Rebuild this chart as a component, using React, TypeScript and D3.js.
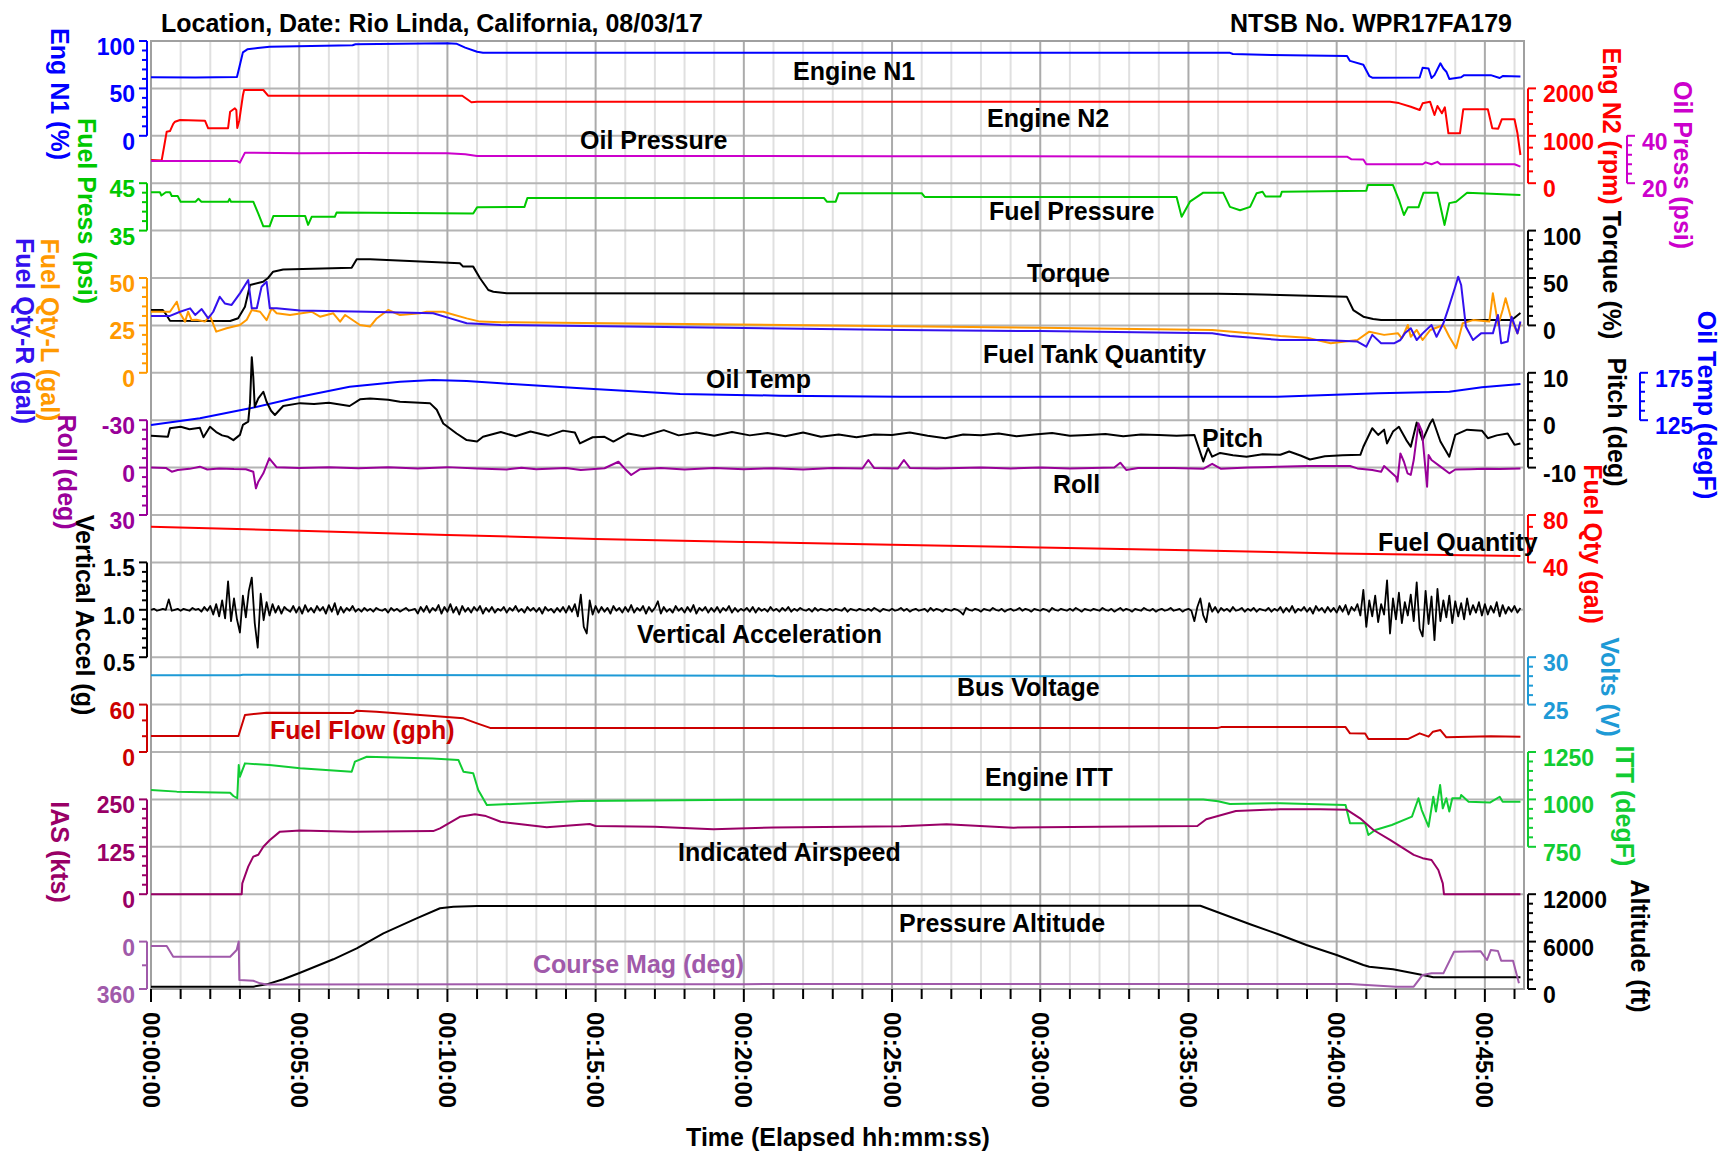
import React, { useEffect, useRef } from 'react';
import * as d3 from 'd3';

type Pt = [number, number];

// ---- data: [elapsed minutes, value in the axis units] ----
const timeTicks = [0, 5, 10, 15, 20, 25, 30, 35, 40, 45];
const timeLabels = ['00:00:00', '00:05:00', '00:10:00', '00:15:00', '00:20:00', '00:25:00', '00:30:00', '00:35:00', '00:40:00', '00:45:00'];

const engN1: Pt[] = [
  [0, 61.7], [1.5, 61.5], [2.9, 62], [3.0, 75], [3.1, 88], [3.25, 91.2], [3.6, 92.5], [4.0, 94], [6.8, 95.5], [6.9, 96.5],
  [10.0, 97.5], [10.3, 97.2], [10.6, 93], [11.0, 88.7], [11.2, 87.7], [36.4, 87.5], [36.5, 86.3], [37.8, 85.2], [40.35, 84.2],
  [40.45, 79], [40.9, 75], [41.1, 63], [41.2, 61.3], [42.8, 61.5], [42.9, 71.8], [43.1, 71], [43.2, 61], [43.3, 64], [43.5, 76.5],
  [43.6, 71], [43.7, 67.6], [43.8, 60], [44.2, 61.7], [44.3, 64], [45.2, 64], [45.5, 61], [45.6, 63], [46.2, 62.5],
];

const engN2: Pt[] = [
  [0, 490], [0.36, 480], [0.45, 800], [0.53, 1087], [0.64, 1100], [0.75, 1250], [0.81, 1297], [0.98, 1333], [1.82, 1320],
  [1.93, 1158], [2.6, 1160], [2.67, 1508], [2.83, 1580], [2.88, 1540], [2.91, 1165], [2.98, 1330], [3.1, 1850], [3.14, 1966],
  [3.79, 1966], [3.95, 1846], [10.5, 1846], [10.81, 1707], [11.0, 1720], [41.8, 1720], [42.1, 1690], [42.5, 1614], [42.8, 1544],
  [42.9, 1685], [43.15, 1720], [43.3, 1439], [43.4, 1629], [43.55, 1475], [43.65, 1601], [43.77, 1053], [44.16, 1053],
  [44.27, 1559], [45.1, 1559], [45.25, 1158], [45.45, 1150], [45.57, 1348], [46.0, 1348], [46.1, 1053], [46.2, 595],
];

const oilPress: Pt[] = [
  [0, 29.4], [2.9, 29.4], [3.0, 28.7], [3.17, 32.9], [5, 32.6], [7, 32.7], [10, 32.6], [10.6, 32.2], [11, 31.5], [25, 31.4],
  [37, 31.2], [40.35, 31.2], [40.5, 30.1], [40.9, 30], [41.0, 28], [42.9, 28], [43.0, 28.8], [43.2, 28], [43.4, 29], [43.5, 28],
  [46.0, 28], [46.2, 27],
];

const fuelPress: Pt[] = [
  [0, 43.1], [0.3, 43.1], [0.35, 42.4], [0.5, 43.1], [0.64, 43.1], [0.7, 42.3], [0.9, 42.3], [1.0, 41.1], [1.5, 41.1], [1.6, 41.7],
  [1.7, 41.1], [2.6, 41.1], [2.65, 41.7], [2.7, 41.1], [3.45, 41.1], [3.62, 38.6], [3.79, 35.9], [4.0, 35.9], [4.13, 38.1],
  [5.2, 38.1], [5.3, 36.2], [5.42, 37.9], [6.2, 37.9], [6.26, 38.8], [10.87, 38.6], [11.0, 39.9], [12.6, 40.0], [12.7, 41.9],
  [22.7, 41.9], [22.8, 41.1], [23.1, 41.1], [23.2, 42.9], [26.0, 42.9], [26.1, 42.1], [34.6, 42.1], [34.77, 37.9], [35.05, 41.1],
  [35.5, 43], [36.17, 43], [36.4, 40], [36.74, 39.3], [37.08, 40], [37.3, 42.9], [37.5, 43.2], [37.6, 42.2], [38.1, 42.2],
  [38.15, 43.2], [41.0, 43.4], [41.05, 44.6], [41.9, 44.6], [42.1, 41.5], [42.27, 38.3], [42.4, 39.9], [42.76, 39.9],
  [42.93, 43], [43.4, 43], [43.64, 36.2], [43.8, 40.8], [44.03, 41.1], [44.4, 43], [46.2, 42.5],
];

const torque: Pt[] = [
  [0, 16.2], [0.4, 16.2], [0.5, 12], [0.64, 5], [2.67, 4.6], [2.94, 7.5], [3.17, 19.7], [3.34, 42.6], [3.78, 46], [3.95, 50],
  [4.12, 56.6], [4.46, 59], [6.77, 60.8], [6.94, 69.7], [7.39, 69.7], [10.42, 65.5], [10.53, 62], [10.87, 62], [11.1, 49.7],
  [11.38, 37.3], [11.55, 35.5], [12.0, 33.8], [36.0, 33.5], [37.1, 32.8], [40.34, 30.3], [40.56, 16.2], [40.9, 9.2],
  [41.23, 6.8], [41.5, 5.7], [45.9, 5.7], [46.0, 8], [46.2, 13],
];

const fuelQtyL: Pt[] = [
  [0, 32.2], [0.64, 32.2], [0.87, 37.5], [0.98, 31.4], [1.15, 27], [1.25, 32.2], [1.37, 27.8], [1.54, 28], [1.82, 27], [1.99, 30],
  [2.2, 21.7], [2.55, 23.5], [3.0, 25.2], [3.23, 28], [3.4, 33.1], [3.68, 32.2], [3.9, 27.8], [4.07, 34], [4.24, 31.4],
  [4.69, 30.5], [5.42, 32.2], [5.7, 29.6], [6.15, 31.4], [6.38, 27], [6.55, 30.5], [7.05, 25.2], [7.39, 24.4], [7.6, 28.5],
  [8.0, 33.1], [8.4, 30.5], [9.08, 31.4], [9.3, 32.2], [9.86, 32.2], [10.65, 28.7], [11.1, 27], [11.8, 26.7], [18, 25.8],
  [25.3, 24.5], [30, 23.8], [35.8, 22.6], [38.1, 19.4], [39.0, 18.5], [39.8, 15.6], [40.7, 17.3], [41.1, 21.7], [41.6, 20],
  [42.07, 20.8], [42.2, 18.2], [42.4, 25.2], [42.5, 19], [42.7, 22.6], [42.9, 17.3], [43.16, 22.6], [43.6, 25.2], [43.8, 19],
  [44.03, 13], [44.25, 26.1], [44.6, 27.8], [45.15, 27], [45.27, 41.9], [45.45, 25.2], [45.6, 33.1], [45.7, 39.3],
  [45.9, 27.8], [46.1, 20.8], [46.2, 26.1],
];

const fuelQtyR: Pt[] = [
  [0, 30], [0.64, 30], [0.98, 32.2], [1.32, 34], [1.49, 30.5], [1.71, 33.6], [1.93, 28.7], [2.1, 32.2], [2.32, 40.1], [2.49, 36.6],
  [2.72, 35.8], [3.0, 41.9], [3.28, 48.9], [3.4, 34], [3.57, 34], [3.73, 45.4], [3.9, 48], [4.01, 34], [4.24, 34], [5.03, 32.8],
  [7.27, 32.2], [9.52, 31.4], [10.1, 28.7], [10.65, 26.1], [11.8, 25.2], [18, 24], [25.3, 22.6], [30, 22], [35.8, 20.8],
  [36.4, 19.4], [38.1, 17.3], [39.5, 17.3], [40.7, 16.5], [41.0, 13.8], [41.2, 20], [41.5, 15.6], [41.95, 15.6], [42.15, 17.3],
  [42.3, 20.8], [42.5, 23.5], [42.7, 17.3], [42.9, 20.8], [43.2, 25.2], [43.37, 19], [43.6, 26.1], [43.77, 34], [44.0, 45.4],
  [44.1, 50.7], [44.2, 46.3], [44.36, 24.3], [44.6, 17.3], [44.87, 20.8], [45.27, 20.8], [45.44, 30.5], [45.55, 15.6],
  [45.77, 16.5], [45.9, 29.6], [46.1, 20.8], [46.2, 27],
];

const oilTemp: Pt[] = [
  [0, 119.9], [1.65, 127], [3.34, 137.5], [5.03, 149.8], [6.7, 160.3], [8.4, 165.6], [9.52, 167.4], [10.65, 166.4],
  [11.8, 163.9], [14.5, 158.6], [17.85, 152.6], [21.2, 150.9], [25.3, 149.8], [38, 149.8], [41.4, 153.4], [43.8, 155.1],
  [44.9, 159.7], [46.2, 163.2],
];

const pitch: Pt[] = [
  [0, -3.3], [0.57, -3.5], [0.64, -1.7], [1.0, -1.4], [1.3, -1.9], [1.65, -1.6], [1.77, -3.6], [1.99, -1.4], [2.2, -2.5],
  [2.4, -3.2], [2.6, -3.5], [2.78, -4.2], [3.0, -3.1], [3.1, -1], [3.28, -0.3], [3.34, 3.6], [3.4, 13.3], [3.45, 9.2], [3.5, 2.8],
  [3.62, 4.6], [3.79, 6], [3.9, 3.9], [4.05, 2], [4.18, 1.1], [4.46, 3.0], [5.03, 3.6], [5.5, 3.4], [6.0, 3.7], [6.7, 3.0],
  [7.05, 4.4], [7.39, 4.6], [8.0, 4.3], [8.4, 3.9], [9.41, 3.6], [9.64, 2.2], [9.86, -0.7], [10.31, -2.8], [10.65, -4.2],
  [11.0, -4.5], [11.2, -3.5], [11.8, -2.5], [12.3, -3.4], [12.8, -2.4], [13.4, -3.3], [13.9, -2.2], [14.3, -2.6], [14.47, -4.9],
  [14.9, -3.6], [15.3, -3.5], [15.6, -4.5], [16.1, -2.8], [16.6, -3.4], [17.3, -2.1], [17.8, -3.2], [18.4, -2.6], [19.0, -3.3],
  [19.6, -2.5], [20.2, -3.2], [20.8, -2.7], [21.4, -3.4], [22.0, -2.6], [22.6, -3.5], [23.2, -3.0], [23.8, -3.6], [24.4, -3.0],
  [25, -3.1], [25.6, -2.6], [26.2, -3.3], [26.8, -3.8], [27.4, -3.0], [28, -3.2], [28.6, -2.8], [29.2, -3.4], [29.8, -3.0],
  [30.4, -2.7], [31, -3.3], [31.6, -3.1], [32.2, -2.9], [32.8, -3.4], [33.4, -3.0], [34, -3.1], [34.6, -3.3], [35.2, -3.1],
  [35.5, -8.7], [35.66, -5.9], [35.8, -7.7], [36.07, -6.9], [36.5, -7.4], [36.96, -7.7], [37.5, -7.2], [38.1, -7.3],
  [38.4, -6.6], [38.8, -7.5], [39.1, -8.3], [39.6, -7.6], [40.2, -7.4], [40.8, -7.3], [40.9, -5.6], [41.2, -1.7], [41.4, -3.1],
  [41.6, -2], [41.7, -4.9], [41.9, -2.4], [42.1, -1.4], [42.35, -4.2], [42.5, -5.6], [42.7, -0.5], [42.9, -4.2], [43.15, -0.7],
  [43.24, 0.2], [43.5, -4.5], [43.8, -7.7], [44.0, -3.1], [44.4, -2.0], [44.9, -2.2], [45.1, -3.8], [45.4, -3.2],
  [45.77, -2.8], [46.0, -5.2], [46.2, -4.9],
];

const roll: Pt[] = [
  [0, 0], [0.5, 0.2], [0.7, 2.6], [0.9, 1.5], [1.3, 0.8], [1.65, -0.6], [1.9, 1.2], [2.3, 0.5], [2.8, 0.9], [3.2, 1.0],
  [3.45, 2.6], [3.54, 13.1], [3.62, 8.9], [3.79, 3.6], [3.99, -5.9], [4.24, -0.2], [5, 0.3], [6, -0.3], [7, 0.4], [8, -0.2],
  [9, 0.5], [10, -0.3], [11, 0.6], [12, 1.2], [12.5, 0.1], [13, 1.0], [14, 0.3], [14.5, 1.5], [15.3, 0.4], [15.77, -3.7],
  [16.0, 1.0], [16.2, 4.7], [16.5, 1.0], [17.2, 0.3], [18, 1.2], [19, 0.2], [20, 1.0], [21, 0.4], [22, 1.2], [23, 0.3],
  [24, 0.6], [24.2, -4.8], [24.4, 0.3], [25.2, 0.5], [25.4, -4.8], [25.6, 0.2], [26.5, 0.5], [28, 0], [29, 0.5], [30, 0],
  [31, 0.5], [32.5, 0], [32.7, -3.1], [32.9, 1.5], [33.3, 0.2], [34.5, 0.2], [35.5, 0.8], [35.8, -2.4], [36.1, 0.8], [37, 0],
  [38, -0.5], [39, -1], [40.45, -1], [40.7, 0.5], [41.2, 1.5], [41.5, 2.6], [41.6, -1], [42.0, 5.8], [42.05, 8.9],
  [42.15, -9], [42.27, -3.7], [42.39, 3.6], [42.5, 4.6], [42.6, -4.8], [42.76, -28], [42.88, -22.7], [43.05, 12.1],
  [43.1, -7.9], [43.2, -4.8], [43.5, -0.6], [43.8, 3.6], [44.0, 1.2], [44.5, 1.0], [45, 0.8], [45.5, 0.9], [46.2, 0.5],
];

const fuelQty: Pt[] = [
  [0, 70.1], [5, 66.8], [10, 63.2], [15, 59.8], [20, 57.3], [25, 54.9], [30, 52.6], [35, 50.2], [40, 47.6], [46.2, 45.4],
];

// vertical acceleration, one sample every 6 s (0.1 min), one row per minute
const vaccelStep = 0.1;
const vaccel = [
  1.00, 1.01, 0.99, 1.00, 1.01, 1.00, 1.11, 0.99, 1.00, 1.01,
  0.99, 1.01, 1.00, 0.99, 1.02, 1.00, 1.01, 0.98, 1.03, 0.99,
  1.04, 0.95, 1.06, 0.93, 1.10, 0.91, 1.30, 0.88, 1.12, 0.90,
  0.76, 1.15, 0.92, 1.20, 1.34, 0.86, 0.60, 1.17, 0.89, 1.08,
  0.94, 1.06, 0.97, 1.04, 0.96, 1.03, 1.00, 0.98, 1.04, 0.97,
  1.03, 0.96, 1.05, 0.98, 1.02, 0.97, 1.04, 0.99, 1.03, 0.96,
  1.05, 0.98, 1.07, 0.95, 1.03, 0.97, 1.02, 0.99, 1.04, 0.98,
  1.01, 0.98, 1.02, 0.99, 1.01, 0.98, 1.02, 1.00, 0.99, 1.01,
  0.97, 1.02, 0.99, 1.01, 0.98, 1.00, 1.02, 0.99, 1.00, 1.01,
  0.96, 1.03, 0.98, 1.04, 0.97, 1.02, 0.99, 1.05, 0.96, 1.03,
  0.98, 1.06, 0.97, 1.03, 0.95, 1.04, 0.98, 1.02, 0.97, 1.03,
  0.99, 1.04, 0.96, 1.02, 0.98, 1.03, 0.97, 1.01, 0.99, 1.03,
  0.97, 1.02, 0.99, 1.04, 0.98, 1.01, 0.97, 1.03, 0.99, 1.02,
  0.98, 1.02, 0.96, 1.03, 0.99, 1.01, 0.97, 1.02, 0.98, 1.03,
  0.97, 1.04, 0.98, 1.06, 0.93, 1.16, 0.82, 0.75, 1.10, 0.95,
  1.04, 0.97, 1.03, 0.98, 1.02, 0.96, 1.04, 0.99, 1.02, 0.97,
  1.03, 0.98, 1.05, 0.97, 1.02, 0.99, 1.04, 0.96, 1.03, 0.98,
  1.02, 1.09, 0.96, 1.03, 0.98, 1.01, 0.97, 1.04, 0.99, 1.02,
  0.97, 1.03, 0.98, 1.05, 0.96, 1.02, 0.99, 1.03, 0.97, 1.02,
  0.98, 1.03, 0.97, 1.02, 0.99, 1.04, 0.97, 1.02, 0.98, 1.01,
  0.99, 1.02, 0.98, 1.03, 0.97, 1.02, 0.99, 1.01, 0.98, 1.03,
  0.99, 1.01, 0.98, 1.02, 0.99, 1.03, 0.98, 1.01, 0.99, 1.02,
  1.00, 0.99, 1.01, 0.98, 1.02, 0.99, 1.01, 1.00, 0.99, 1.01,
  0.99, 1.01, 1.00, 0.99, 1.02, 0.98, 1.01, 1.00, 0.99, 1.01,
  1.00, 0.99, 1.01, 0.99, 1.02, 1.00, 0.98, 1.01, 1.00, 0.99,
  1.01, 0.99, 1.00, 1.02, 0.99, 1.01, 0.98, 1.00, 1.01, 0.99,
  1.00, 1.01, 0.98, 1.02, 0.99, 1.01, 1.00, 0.98, 1.01, 1.00,
  0.99, 1.01, 1.00, 0.98, 0.95, 1.02, 1.00, 0.99, 1.01, 1.00,
  0.98, 1.01, 1.00, 0.99, 1.02, 1.00, 0.99, 1.01, 0.98, 1.00,
  1.01, 0.99, 1.00, 1.02, 0.99, 1.01, 1.00, 0.98, 1.01, 1.00,
  0.99, 1.01, 1.00, 0.98, 1.02, 1.00, 0.99, 1.01, 1.00, 0.99,
  1.01, 0.99, 1.02, 1.00, 0.98, 1.01, 1.00, 0.99, 1.01, 1.00,
  0.99, 1.02, 1.00, 0.99, 1.01, 0.98, 1.00, 1.02, 0.99, 1.01,
  1.00, 0.98, 1.01, 1.00, 0.99, 1.02, 1.00, 0.99, 1.01, 0.98,
  1.00, 1.01, 0.99, 1.00, 1.02, 0.99, 1.00, 1.01, 0.98, 1.00,
  1.01, 0.99, 0.88, 1.03, 1.12, 0.94, 0.87, 1.07, 0.98, 1.03,
  0.97, 1.02, 0.99, 1.01, 0.98, 1.03, 0.99, 1.00, 1.02, 0.98,
  1.01, 0.99, 1.02, 0.98, 1.01, 1.00, 0.99, 1.02, 0.98, 1.01,
  0.99, 1.03, 0.97, 1.02, 0.98, 1.04, 0.97, 1.01, 0.99, 1.03,
  0.98, 1.02, 0.96, 1.04, 0.99, 1.02, 0.97, 1.03, 0.98, 1.02,
  0.97, 1.04, 0.98, 1.05, 0.95, 1.03, 0.99, 1.06, 0.94, 1.21,
  0.82, 1.10, 0.93, 1.15, 0.87, 1.06, 0.95, 1.31, 0.75, 1.12,
  0.90, 1.18, 0.86, 1.08, 0.94, 1.16, 0.88, 1.29, 0.80, 0.72,
  1.20, 0.85, 1.14, 0.68, 1.22, 0.88, 1.10, 0.92, 1.15, 0.86,
  1.09, 0.93, 1.07, 0.90, 1.12, 0.95, 1.05, 0.97, 1.08, 0.94,
  1.06, 0.95, 1.04, 0.97, 1.08, 0.93, 1.05, 0.96, 1.03, 0.98,
  1.04, 0.97, 1.02,
];

const volts: Pt[] = [
  [0, 28.1], [3.0, 28.1], [3.1, 28.15], [12, 28.1], [21, 28.05], [21.1, 28.0], [30, 28.0], [37, 28.05], [46.2, 28.05],
];

const fuelFlow: Pt[] = [
  [0, 20.3], [2.95, 20.3], [3.17, 46.8], [3.9, 49.7], [6.83, 49.4], [6.94, 52.3], [7.6, 51], [8.74, 47.7], [10.54, 42.6],
  [11.0, 36.3], [11.44, 30.5], [36.0, 30.5], [36.1, 31.5], [40.3, 31.5], [40.45, 23.6], [40.96, 23.3], [41.07, 16.4],
  [42.4, 16.4], [42.8, 23.6], [43.1, 19.4], [43.25, 25.7], [43.5, 27.8], [43.7, 18.6], [45.2, 20], [46.2, 19.4],
];

const itt: Pt[] = [
  [0, 1050], [0.87, 1041], [2.67, 1035], [2.78, 1018], [2.91, 1006], [2.96, 1181], [3.0, 1120], [3.17, 1190], [4.0, 1181],
  [5.03, 1164], [6.77, 1146], [6.88, 1199], [7.28, 1225], [9.5, 1216], [10.37, 1208], [10.54, 1146], [10.87, 1138],
  [11.04, 1050], [11.33, 970], [12.2, 976], [14.47, 992], [20, 998], [25.3, 1000], [35.5, 1000], [36.0, 990], [36.4, 976],
  [38.1, 980], [40.3, 970], [40.45, 874], [40.96, 874], [41.07, 812], [41.3, 839], [41.86, 865], [42.54, 909], [42.76, 1006],
  [42.87, 944], [43.1, 856], [43.26, 1014], [43.35, 936], [43.49, 1076], [43.58, 953], [43.7, 1006], [43.8, 936],
  [43.9, 1006], [44.17, 1006], [44.2, 1023], [44.45, 988], [45.17, 983], [45.5, 1014], [45.6, 988], [46.2, 988],
];

const ias: Pt[] = [
  [0, 0], [3.06, 0], [3.08, 28.7], [3.28, 72.6], [3.45, 99], [3.62, 104], [3.79, 125.3], [4.01, 143], [4.35, 165],
  [5.03, 167.8], [6.8, 165], [9.52, 166.5], [9.75, 173.6], [10.42, 204], [10.93, 211], [11.3, 206], [11.8, 191], [12.2, 187],
  [13.35, 176.5], [14.8, 185.3], [15, 180], [17, 178], [18.97, 171], [21, 176], [25.3, 179.3], [26.84, 184.4], [29.1, 175.5],
  [32, 178], [35.3, 180], [35.6, 197.5], [36.6, 219.5], [38.1, 224], [39.45, 224], [40.35, 222.5], [40.79, 200],
  [41.24, 169.3], [41.8, 143], [42.6, 103.6], [42.9, 95], [43.2, 90.2], [43.43, 63.9], [43.58, 28.7], [43.62, 0], [46.2, 0],
];

const altitude: Pt[] = [
  [0, 290], [3.45, 290], [3.9, 590], [4.46, 1230], [5.03, 2060], [6.15, 3760], [6.94, 5150], [7.84, 7050], [8.96, 8950],
  [9.75, 10220], [10.2, 10420], [11, 10500], [35.4, 10540], [37.08, 8200], [38.1, 6840], [38.98, 5570], [40.0, 4300],
  [40.9, 3040], [41.1, 2820], [41.9, 2490], [42.9, 1770], [43.26, 1480], [46.2, 1480],
];

const courseMag: Pt[] = [
  [0, 33], [0.53, 33], [0.75, 115], [2.67, 115], [2.89, 64], [2.96, 0], [2.98, 292], [3.45, 297], [3.68, 317], [3.9, 325],
  [20, 323], [40.45, 322], [42.0, 342], [42.6, 342], [42.9, 253], [43.2, 241], [43.6, 241], [43.96, 77], [44.86, 74],
  [45.07, 140], [45.2, 64], [45.44, 71], [45.55, 145], [45.95, 145], [46.15, 317],
];

// ---- colours ----
const C = {
  n1: '#0000ff', n2: '#ff0000', oil: '#cc00cc', fp: '#00c800', fql: '#ff9900', fqr: '#3311ee', roll: '#990099',
  ff: '#cc0000', ias: '#990066', course: '#a05aaa', volts: '#1e9ad6', itt: '#11cc33', k: '#000000',
};

const FONT = '"Liberation Sans", Arial, sans-serif';

const App = () => {
  const ref = useRef<SVGSVGElement>(null);

  useEffect(() => {
    const svg = d3.select(ref.current);
    svg.selectAll('*').remove();

    const left = 151, right = 1524, top = 41, bottom = 989;
    const band = (bottom - top) / 20;
    const rowY = (k: number) => top + band * k;

    const x = d3.scaleLinear().domain([0, 46.32]).range([left, right]);

    // grid
    const grid = svg.append('g');
    d3.range(1, 47).filter(m => m % 5 !== 0).forEach(m => {
      grid.append('line').attr('x1', x(m)).attr('x2', x(m)).attr('y1', top).attr('y2', bottom)
        .attr('stroke', '#e0e0e0').attr('stroke-width', 2);
    });
    d3.range(1, 20).forEach(k => {
      grid.append('line').attr('x1', left).attr('x2', right).attr('y1', rowY(k)).attr('y2', rowY(k))
        .attr('stroke', '#b4b4b4').attr('stroke-width', 2);
    });
    timeTicks.slice(1).forEach(m => {
      grid.append('line').attr('x1', x(m)).attr('x2', x(m)).attr('y1', top).attr('y2', bottom)
        .attr('stroke', '#ababab').attr('stroke-width', 2);
    });
    svg.append('rect').attr('x', left).attr('y', top).attr('width', right - left).attr('height', bottom - top)
      .attr('fill', 'none').attr('stroke', '#a0a0a0').attr('stroke-width', 2);

    // bottom time ticks and labels
    d3.range(0, 47).forEach(m => {
      const major = m % 5 === 0;
      svg.append('line').attr('x1', x(m)).attr('x2', x(m)).attr('y1', bottom).attr('y2', bottom + (major ? 13 : 10))
        .attr('stroke', '#000').attr('stroke-width', 2);
    });
    timeTicks.forEach((m, i) => {
      svg.append('text').attr('transform', `translate(${x(m)},1012) rotate(90)`)
        .attr('dominant-baseline', 'central').attr('font-family', FONT).attr('font-weight', 'bold')
        .attr('font-size', 24).text(timeLabels[i]);
    });
    svg.append('text').attr('x', 838).attr('y', 1146).attr('text-anchor', 'middle')
      .attr('font-family', FONT).attr('font-weight', 'bold').attr('font-size', 25).text('Time (Elapsed hh:mm:ss)');

    // axes: rows spanned, value at top/bottom of the span, ticks
    const axes: any[] = [
      { key: 'n1', side: 'L', ax: 147, r0: 0, r1: 2, vt: 100, vb: 0, major: [0, 50, 100], minor: 10, color: C.n1 },
      { key: 'fp', side: 'L', ax: 147, r0: 3, r1: 4, vt: 45, vb: 35, major: [35, 45], minor: 2, color: C.fp },
      { key: 'fq', side: 'L', ax: 147, r0: 5, r1: 7, vt: 50, vb: 0, major: [0, 25, 50], minor: 5, color: C.fql },
      { key: 'roll', side: 'L', ax: 147, r0: 8, r1: 10, vt: -30, vb: 30, major: [-30, 0, 30], minor: 6, color: C.roll },
      { key: 'va', side: 'L', ax: 147, r0: 11, r1: 13, vt: 1.5, vb: 0.5, major: [0.5, 1.0, 1.5], minor: 0.1, color: C.k, fmt: '.1f' },
      { key: 'ff', side: 'L', ax: 147, r0: 14, r1: 15, vt: 60, vb: 0, major: [0, 60], minor: 20, color: C.ff },
      { key: 'ias', side: 'L', ax: 147, r0: 16, r1: 18, vt: 250, vb: 0, major: [0, 125, 250], minor: 25, color: C.ias },
      { key: 'crs', side: 'L', ax: 147, r0: 19, r1: 20, vt: 0, vb: 360, major: [0, 360], minor: 180, color: C.course },
      { key: 'n2', side: 'R', ax: 1528, r0: 1, r1: 3, vt: 2000, vb: 0, major: [0, 1000, 2000], minor: 250, color: C.n2 },
      { key: 'op', side: 'R', ax: 1627, r0: 2, r1: 3, vt: 40, vb: 20, major: [20, 40], minor: 4, color: C.oil },
      { key: 'tq', side: 'R', ax: 1528, r0: 4, r1: 6, vt: 100, vb: 0, major: [0, 50, 100], minor: 10, color: C.k },
      { key: 'ot', side: 'R', ax: 1640, r0: 7, r1: 8, vt: 175, vb: 125, major: [125, 175], minor: 10, color: C.n1 },
      { key: 'pitch', side: 'R', ax: 1528, r0: 7, r1: 9, vt: 10, vb: -10, major: [-10, 0, 10], minor: 2, color: C.k },
      { key: 'fqt', side: 'R', ax: 1528, r0: 10, r1: 11, vt: 80, vb: 40, major: [40, 80], minor: 10, color: C.n2 },
      { key: 'v', side: 'R', ax: 1528, r0: 13, r1: 14, vt: 30, vb: 25, major: [25, 30], minor: 1, color: C.volts },
      { key: 'itt', side: 'R', ax: 1528, r0: 15, r1: 17, vt: 1250, vb: 750, major: [750, 1000, 1250], minor: 50, color: C.itt },
      { key: 'alt', side: 'R', ax: 1528, r0: 18, r1: 20, vt: 12000, vb: 0, major: [0, 6000, 12000], minor: 1200, color: C.k },
    ];

    const ys: Record<string, d3.ScaleLinear<number, number>> = {};
    axes.forEach(a => {
      const y = d3.scaleLinear().domain([a.vb, a.vt]).range([rowY(a.r1), rowY(a.r0)]);
      ys[a.key] = y;
      const dir = a.side === 'L' ? -1 : 1;
      const g = svg.append('g');
      g.append('line').attr('x1', a.ax).attr('x2', a.ax).attr('y1', rowY(a.r0)).attr('y2', rowY(a.r1))
        .attr('stroke', a.color).attr('stroke-width', 2);
      const lo = Math.min(a.vt, a.vb), hi = Math.max(a.vt, a.vb);
      const n = Math.round((hi - lo) / a.minor);
      d3.range(0, n + 1).forEach(i => {
        const v = lo + i * a.minor;
        const isMajor = a.major.some((m: number) => Math.abs(m - v) < 1e-6);
        g.append('line').attr('x1', a.ax).attr('x2', a.ax + dir * (isMajor ? 8 : 5))
          .attr('y1', y(v)).attr('y2', y(v)).attr('stroke', a.color).attr('stroke-width', 2);
      });
      const fmt = a.fmt ? d3.format(a.fmt) : (v: number) => String(v);
      a.major.forEach((m: number) => {
        g.append('text').attr('x', a.side === 'L' ? a.ax - 12 : a.ax + 15).attr('y', y(m) + 14)
          .attr('text-anchor', a.side === 'L' ? 'end' : 'start').attr('fill', a.color)
          .attr('font-family', FONT).attr('font-weight', 'bold').attr('font-size', 23).text(fmt(m));
      });
    });

    // series
    const series: [Pt[], string, string, number][] = [
      [engN1, 'n1', C.n1, 2],
      [engN2, 'n2', C.n2, 2],
      [oilPress, 'op', C.oil, 2],
      [fuelPress, 'fp', C.fp, 2],
      [torque, 'tq', C.k, 2],
      [fuelQtyL, 'fq', C.fql, 2],
      [fuelQtyR, 'fq', C.fqr, 2],
      [oilTemp, 'ot', C.n1, 2],
      [pitch, 'pitch', C.k, 2],
      [roll, 'roll', C.roll, 2],
      [fuelQty, 'fqt', C.n2, 2],
      [vaccel.map((v, i) => [i * vaccelStep, v] as Pt), 'va', C.k, 1.8],
      [volts, 'v', C.volts, 2],
      [fuelFlow, 'ff', C.ff, 2],
      [itt, 'itt', C.itt, 2],
      [ias, 'ias', C.ias, 2],
      [altitude, 'alt', C.k, 2],
      [courseMag, 'crs', C.course, 2],
    ];
    series.forEach(([data, key, color, w]) => {
      const y = ys[key];
      const line = d3.line<Pt>().x(d => x(d[0])).y(d => y(d[1]));
      svg.append('path').attr('d', line(data)).attr('fill', 'none').attr('stroke', color)
        .attr('stroke-width', w).attr('stroke-linejoin', 'round');
    });

    // labels inside the plot
    const inner: [string, number, number, string][] = [
      ['Engine N1', 793, 80, C.k],
      ['Engine N2', 987, 127, C.k],
      ['Oil Pressure', 580, 149, C.k],
      ['Fuel Pressure', 989, 220, C.k],
      ['Torque', 1027, 282, C.k],
      ['Fuel Tank Quantity', 983, 363, C.k],
      ['Oil Temp', 706, 388, C.k],
      ['Pitch', 1202, 447, C.k],
      ['Roll', 1053, 493, C.k],
      ['Fuel Quantity', 1378, 551, C.k],
      ['Vertical Acceleration', 637, 643, C.k],
      ['Bus Voltage', 957, 696, C.k],
      ['Fuel Flow (gph)', 270, 739, C.ff],
      ['Engine ITT', 985, 786, C.k],
      ['Indicated Airspeed', 678, 861, C.k],
      ['Pressure Altitude', 899, 932, C.k],
      ['Course Mag (deg)', 533, 973, C.course],
    ];
    inner.forEach(([t, lx, ly, color]) => {
      svg.append('text').attr('x', lx).attr('y', ly).attr('fill', color).attr('font-family', FONT)
        .attr('font-weight', 'bold').attr('font-size', 25).text(t);
    });

    // rotated axis titles
    const titles: [string, number, number, string][] = [
      ['Eng N1 (%)', 60, 94, C.n1],
      ['Fuel Press (psi)', 87, 211, C.fp],
      ['Fuel Qty-L (gal)', 50, 330, C.fql],
      ['Fuel Qty-R (gal)', 25, 331, C.fqr],
      ['Roll (deg)', 67, 472, C.roll],
      ['Vertical Accel (g)', 85, 615, C.k],
      ['IAS (kts)', 60, 852, C.ias],
      ['Eng N2 (rpm)', 1612, 126, C.n2],
      ['Oil Press (psi)', 1683, 165, C.oil],
      ['Torque (%)', 1612, 275, C.k],
      ['Oil Temp (degF)', 1707, 405, C.n1],
      ['Pitch (deg)', 1617, 422, C.k],
      ['Fuel Qty (gal)', 1593, 544, C.n2],
      ['Volts (V)', 1610, 687, C.volts],
      ['ITT (degF)', 1625, 806, C.itt],
      ['Altitude (ft)', 1640, 946, C.k],
    ];
    titles.forEach(([t, cx, cy, color]) => {
      svg.append('text').attr('transform', `translate(${cx},${cy}) rotate(90)`).attr('text-anchor', 'middle')
        .attr('dominant-baseline', 'central').attr('fill', color).attr('font-family', FONT)
        .attr('font-weight', 'bold').attr('font-size', 25).text(t);
    });

    // header
    svg.append('text').attr('x', 161).attr('y', 32).attr('font-family', FONT).attr('font-weight', 'bold')
      .attr('font-size', 25).text('Location, Date: Rio Linda, California, 08/03/17');
    svg.append('text').attr('x', 1512).attr('y', 32).attr('text-anchor', 'end').attr('font-family', FONT)
      .attr('font-weight', 'bold').attr('font-size', 25).text('NTSB No. WPR17FA179');
  }, []);

  return (
    <svg ref={ref} width={1722} height={1152} style={{ position: 'absolute', left: 0, top: 0, background: '#fff' }} />
  );
};

export default App;
